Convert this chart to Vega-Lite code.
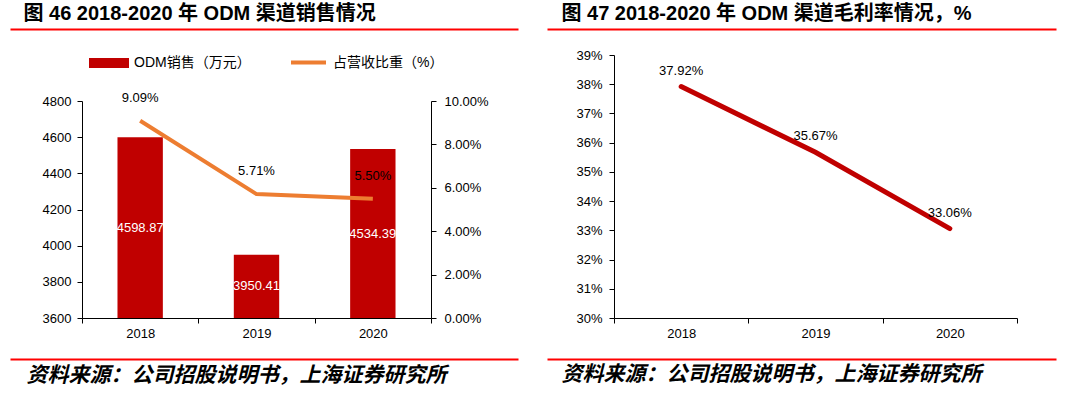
{
  "$schema": "https://vega.github.io/schema/vega-lite/v6.json",
  "background": "white",
  "padding": {"left": 9, "top": 4, "right": 5, "bottom": 2},
  "config": {
    "view": {"stroke": null},
    "axis": {
      "labelFont": "Liberation Sans",
      "labelFontSize": 13,
      "labelColor": "black",
      "domainColor": "black",
      "tickColor": "black",
      "grid": false,
      "tickSize": 5
    },
    "title": {
      "font": "Liberation Sans, Noto Sans CJK SC",
      "fontSize": 20,
      "fontWeight": "bold",
      "color": "black",
      "anchor": "start"
    },
    "text": {"font": "Liberation Sans", "fontSize": 13, "color": "black"}
  },
  "hconcat": [
    {
      "vconcat": [
        {
          "width": 508,
          "height": 31,
          "title": {"text": "图 46 2018-2020 年 ODM 渠道销售情况", "dx": 14, "offset": 5},
          "data": {"values": [{"edge": 0}, {"edge": 1}]},
          "mark": {"type": "point", "opacity": 0, "size": 1},
          "encoding": {
            "x": {"field": "edge", "type": "quantitative", "scale": {"domain": [0, 1]},
                  "axis": {"orient": "top", "title": null, "labels": false, "ticks": false, "domainColor": "#FF0000", "domainWidth": 2}}
          }
        },
        {
          "width": 508,
          "height": 217,
          "data": {"values": [
            {"year": "2018", "sales": 4598.87, "ratio": 0.0909},
            {"year": "2019", "sales": 3950.41, "ratio": 0.0571},
            {"year": "2020", "sales": 4534.39, "ratio": 0.055}
          ]},
          "encoding": {
            "x": {
              "field": "year", "type": "nominal",
              "scale": {"range": [72, 421], "paddingInner": 0, "paddingOuter": 0},
              "axis": {"title": null, "labelAngle": 0, "tickBand": "extent", "labelPadding": 4}
            }
          },
          "layer": [
            {
              "mark": {"type": "bar", "width": {"band": 0.39}},
              "encoding": {
                "y": {
                  "field": "sales", "type": "quantitative",
                  "scale": {"domain": [3600, 4800], "zero": false, "nice": false},
                  "axis": {"title": null, "orient": "left", "offset": -72, "values": [3600, 3800, 4000, 4200, 4400, 4600, 4800], "format": "d", "labelPadding": 6}
                },
                "y2": {"datum": 3600},
                "fill": {
                  "datum": "ODM销售（万元）", "type": "nominal",
                  "scale": {"range": ["#C00000"]},
                  "legend": {
                    "title": null, "orient": "none", "legendX": 79, "legendY": 14, "padding": 0,
                    "symbolType": "M-1,-0.25L1,-0.25L1,0.25L-1,0.25Z", "symbolSize": 1600,
                    "symbolStrokeWidth": 0,
                    "labelFont": "Liberation Sans, Noto Sans CJK SC", "labelFontSize": 14, "labelColor": "black",
                    "labelLimit": 300, "labelOffset": 5
                  }
                }
              }
            },
            {
              "mark": {"type": "text", "color": "white", "baseline": "middle"},
              "encoding": {
                "y": {"field": "sales", "type": "quantitative", "scale": {"domain": [3600, 6000], "zero": false, "nice": false}, "axis": null},
                "text": {"field": "sales", "type": "quantitative", "format": ".2f"}
              }
            },
            {
              "layer": [
                {
                  "mark": {"type": "line", "strokeWidth": 4},
                  "encoding": {
                    "y": {
                      "field": "ratio", "type": "quantitative",
                      "scale": {"domain": [0, 0.1], "nice": false},
                      "axis": {"title": null, "orient": "right", "offset": -87, "format": ".2%", "values": [0, 0.01, 0.02, 0.03, 0.04, 0.05, 0.06, 0.07, 0.08, 0.09, 0.1], "labelPadding": 8}
                    },
                    "stroke": {
                      "datum": "占营收比重（%）", "type": "nominal",
                      "scale": {"range": ["#ED7D31"]},
                      "legend": {
                        "title": null, "orient": "none", "legendX": 279, "legendY": 14, "padding": 0,
                        "symbolType": "stroke", "symbolSize": 1225, "symbolStrokeWidth": 4,
                        "labelFont": "Liberation Sans, Noto Sans CJK SC", "labelFontSize": 14, "labelColor": "black",
                        "labelLimit": 300, "labelOffset": 5
                      }
                    }
                  }
                },
                {
                  "mark": {"type": "text", "dy": -23, "baseline": "middle"},
                  "encoding": {
                    "y": {"field": "ratio", "type": "quantitative"},
                    "text": {"field": "ratio", "type": "quantitative", "format": ".2%"}
                  }
                }
              ]
            }
          ],
          "resolve": {"scale": {"y": "independent"}}
        },
        {
          "width": 508,
          "height": 1,
          "title": {"text": "资料来源：公司招股说明书，上海证券研究所", "orient": "bottom", "dx": 17, "offset": 5, "fontSize": 21, "fontStyle": "italic", "font": "Noto Sans CJK SC"},
          "data": {"values": [{"edge": 0}, {"edge": 1}]},
          "mark": {"type": "point", "opacity": 0, "size": 1},
          "encoding": {
            "x": {"field": "edge", "type": "quantitative", "scale": {"domain": [0, 1]},
                  "axis": {"orient": "top", "title": null, "labels": false, "ticks": false, "domainColor": "#FF0000", "domainWidth": 2}}
          }
        }
      ],
      "spacing": 41,
      "bounds": "flush"
    },
    {
      "vconcat": [
        {
          "width": 509,
          "height": 1,
          "title": {"text": "图 47 2018-2020 年 ODM 渠道毛利率情况，%", "dx": 15, "offset": 5},
          "data": {"values": [{"edge": 0}, {"edge": 1}]},
          "mark": {"type": "point", "opacity": 0, "size": 1},
          "encoding": {
            "x": {"field": "edge", "type": "quantitative", "scale": {"domain": [0, 1]},
                  "axis": {"orient": "top", "title": null, "labels": false, "ticks": false, "domainColor": "#FF0000", "domainWidth": 2}}
          }
        },
        {
          "width": 509,
          "height": 263,
          "data": {"values": [
            {"year": "2018", "margin": 0.3792},
            {"year": "2019", "margin": 0.3567},
            {"year": "2020", "margin": 0.3306}
          ]},
          "encoding": {
            "x": {
              "field": "year", "type": "nominal",
              "scale": {"range": [67, 470], "paddingInner": 0, "paddingOuter": 0},
              "axis": {"title": null, "labelAngle": 0, "tickBand": "extent", "labelPadding": 4}
            },
            "y": {
              "field": "margin", "type": "quantitative",
              "scale": {"domain": [0.3, 0.39], "zero": false, "nice": false},
              "axis": {"title": null, "orient": "left", "offset": -67, "format": ".0%", "values": [0.3, 0.31, 0.32, 0.33, 0.34, 0.35, 0.36, 0.37, 0.38, 0.39], "labelPadding": 7}
            }
          },
          "layer": [
            {"mark": {"type": "line", "color": "#C00000", "strokeWidth": 5, "strokeCap": "round"}},
            {
              "mark": {"type": "text", "dy": -16, "baseline": "middle"},
              "encoding": {"text": {"field": "margin", "type": "quantitative", "format": ".2%"}}
            }
          ]
        },
        {
          "width": 509,
          "height": 16,
          "title": {"text": "资料来源：公司招股说明书，上海证券研究所", "orient": "bottom", "dx": 15, "offset": 5, "fontSize": 21, "fontStyle": "italic", "font": "Noto Sans CJK SC"},
          "data": {"values": [{"edge": 0}, {"edge": 1}]},
          "mark": {"type": "point", "opacity": 0, "size": 1},
          "encoding": {
            "x": {"field": "edge", "type": "quantitative", "scale": {"domain": [0, 1]},
                  "axis": {"orient": "bottom", "title": null, "labels": false, "ticks": false, "domainColor": "#FF0000", "domainWidth": 2}}
          }
        }
      ],
      "spacing": 25,
      "bounds": "flush"
    }
  ],
  "spacing": 27
}
